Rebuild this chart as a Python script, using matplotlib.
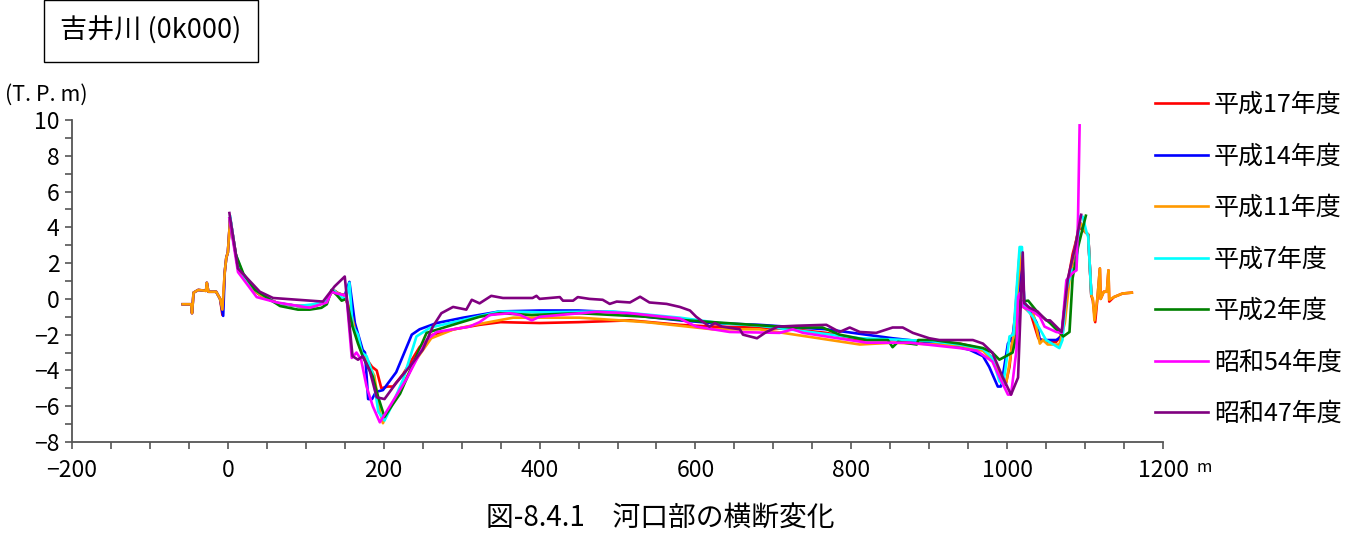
import matplotlib
matplotlib.use("Agg")
import matplotlib.pyplot as plt
from matplotlib.ticker import MultipleLocator

plt.rcParams['font.family'] = ['Noto Sans CJK JP', 'DejaVu Sans']

labels = ['平成17年度', '平成14年度', '平成11年度', '平成7年度', '平成2年度', '昭和54年度', '昭和47年度']
colors = ['#FF0000', '#0000FF', '#FF9900', '#00FFFF', '#008000', '#FF00FF', '#800080']

# 平成17年度
x_h17 = [-58, -47, -46, -44, -38, -28, -27, -25, -15, -10, -7, -4, -2, 0, 3,
         12, 20, 30, 45, 65, 90, 110, 125, 135, 142, 150,
         155, 160, 165, 170, 177, 185, 191, 197, 205, 212, 225, 246, 263, 290, 323, 350,
         400, 450, 516, 580, 622, 682, 725, 768, 811, 853, 900, 939, 969, 981, 990, 998,
         1003, 1010, 1016, 1020, 1030, 1040, 1050, 1063, 1070, 1076, 1084, 1093, 1100, 1104,
         1108, 1110, 1113, 1116, 1119, 1120, 1124, 1128, 1130, 1131, 1137, 1148, 1160]
y_h17 = [-0.3, -0.3, -0.8, 0.35, 0.5, 0.45, 0.9, 0.4, 0.4, 0.0, -0.9, 1.5, 2.3, 2.6, 4.5,
         2.0, 1.2, 0.6, 0.1, -0.25, -0.4, -0.4, -0.2, 0.5, 0.3, 0.2,
         -0.5, -1.5, -1.8, -2.8, -3.3, -3.8, -4.0, -5.0, -4.9, -4.9, -4.2, -2.7, -2.0, -1.7, -1.45, -1.3,
         -1.35, -1.3, -1.2, -1.45, -1.55, -1.6, -1.7, -1.9, -2.3, -2.3, -2.4, -2.5, -2.8, -3.3, -4.2, -4.8,
         -3.8, -1.0, 2.5, -0.4, -0.8, -2.2, -2.4, -2.4, -2.0, 0.5, 2.5, 4.0, 3.75, 3.6,
         0.2, -0.1, -1.3, 0.1, 1.7, 0.0, 0.4, 0.4, 1.6, -0.15, 0.1, 0.3, 0.35]

# 平成14年度
x_h14 = [-58, -47, -46, -44, -38, -28, -27, -25, -15, -10, -6, -4, -2, 0, 3,
         12, 20, 30, 45, 65, 90, 110, 125, 135, 142, 150,
         156, 163, 173, 176, 180, 185, 190, 199, 216, 236, 246, 268, 302, 349,
         400, 450, 500, 537, 580, 622, 682, 768, 853, 926, 952, 969, 977, 988, 992,
         995, 1001, 1007, 1014, 1019, 1022, 1029, 1038, 1042, 1063, 1070, 1076, 1084, 1093, 1100,
         1104, 1108]
y_h14 = [-0.3, -0.3, -0.8, 0.35, 0.5, 0.45, 0.9, 0.4, 0.4, 0.0, -0.95, 1.5, 2.3, 2.6, 4.5,
         2.0, 1.2, 0.6, 0.1, -0.25, -0.4, -0.4, -0.2, 0.5, 0.3, 0.2,
         0.95, -1.35, -2.85, -3.0, -5.6, -5.6, -5.2, -5.1, -4.1, -2.0, -1.7, -1.35, -1.05, -0.7,
         -0.65, -0.65, -0.75, -1.0, -1.2, -1.35, -1.45, -1.7, -2.2, -2.55, -2.85, -3.2, -3.8, -4.9, -4.9,
         -4.15, -2.5, -2.1, 0.1, 2.5, -0.2, -0.6, -1.35, -2.3, -2.3, -2.1, 0.5, 2.0, 4.3, 3.75,
         3.6, 0.2]

# 平成11年度
x_h11 = [-58, -47, -46, -44, -38, -28, -27, -25, -15, -10, -7, -4, -2, 0, 3,
         12, 20, 30, 45, 65, 90, 110, 125, 135, 142, 150,
         157, 163, 172, 180, 188, 195, 199, 205, 222, 240, 261, 290, 323, 366,
         451, 537, 622, 682, 811, 853, 939, 969, 985, 995, 999, 1003, 1010, 1012,
         1017, 1022, 1033, 1042, 1046, 1052, 1067, 1074, 1080, 1091, 1095, 1100, 1104,
         1108, 1110, 1112, 1116, 1119, 1120, 1124, 1128, 1130, 1131, 1137, 1148, 1160]
y_h11 = [-0.3, -0.3, -0.8, 0.35, 0.5, 0.45, 0.9, 0.4, 0.4, 0.0, -0.6, 1.5, 2.3, 2.6, 4.5,
         2.0, 1.2, 0.6, 0.1, -0.25, -0.4, -0.4, -0.2, 0.5, 0.3, 0.2,
         -0.6, -1.7, -3.0, -3.6, -4.3, -6.3, -6.95, -6.3, -5.0, -3.5, -2.2, -1.7, -1.4, -1.05,
         -1.05, -1.3, -1.7, -1.7, -2.55, -2.45, -2.6, -2.9, -3.6, -4.7, -4.65, -3.6, -1.5, -0.45,
         2.7, -0.4, -0.7, -2.5, -2.3, -2.55, -2.55, -1.35, 1.05, 3.85, 4.2, 3.75, 3.6,
         0.2, 0.0, -1.2, 0.1, 1.7, 0.0, 0.4, 0.4, 1.6, -0.05, 0.1, 0.3, 0.35]

# 平成7年度
x_h7 = [3, 10, 20, 35, 60, 90, 110, 125, 135, 145, 152, 156, 160, 167, 172, 178, 186, 193, 201,
        210, 225, 242, 260, 300, 349, 400, 494, 580, 631, 682, 811, 900, 939, 969, 981, 990, 995,
        1000, 1003, 1008, 1016, 1019, 1022, 1033, 1050, 1067, 1071, 1076, 1083, 1089, 1093, 1097,
        1102, 1104, 1108]
y_h7 = [4.6, 2.5, 1.3, 0.5, -0.2, -0.4, -0.3, -0.1, 0.5, 0.1, 0.0, 0.9, -1.5, -2.0, -3.0, -3.2, -4.2, -6.3, -6.8,
        -6.0, -4.5, -2.1, -1.6, -1.2, -0.7, -0.75, -0.7, -1.05, -1.35, -1.5, -2.2, -2.35, -2.55, -2.8, -3.3, -4.6, -4.8,
        -3.2, -2.1, -2.0, 2.9, 2.9, -0.4, -1.0, -2.3, -2.75, -2.3, 0.5, 1.6, 1.8, 4.6, 4.6,
        3.7, 3.5, 0.3]

# 平成2年度
x_h2 = [2, 10, 20, 35, 67, 90, 105, 120, 127, 133, 140, 146, 152, 160, 167, 173, 186, 193, 201,
        210, 221, 238, 255, 281, 323, 349, 390, 451, 537, 589, 673, 725, 763, 785, 820, 847, 853,
        860, 884, 886, 905, 939, 969, 981, 990, 1007, 1012, 1016, 1019, 1027, 1040, 1055, 1072,
        1080, 1084, 1091, 1101]
y_h2 = [4.5, 2.5, 1.4, 0.5, -0.4, -0.6, -0.6, -0.5, -0.3, 0.5, 0.2, -0.1, 0.0, -1.55, -2.5, -3.2, -4.35, -5.5, -6.6,
        -6.0, -5.3, -3.6, -1.9, -1.55, -1.0, -0.8, -0.9, -0.8, -1.0, -1.2, -1.45, -1.6, -1.6, -2.0, -2.3, -2.3, -2.7,
        -2.4, -2.55, -2.3, -2.3, -2.5, -2.75, -3.0, -3.4, -3.0, -2.0, 0.0, -0.15, -0.1, -0.8, -1.35, -2.1,
        -1.85, 1.15, 2.9, 4.65]

# 昭和54年度
x_s54 = [2, 13, 37, 63, 105, 127, 133, 140, 150, 152, 159, 165, 171, 178, 186, 195, 205, 229, 255,
         268, 310, 323, 336, 362, 375, 390, 400, 473, 516, 580, 601, 644, 708, 725, 738, 768, 820,
         875, 939, 961, 981, 990, 1001, 1005, 1012, 1014, 1016, 1020, 1033, 1042, 1048, 1063, 1070,
         1076, 1084, 1089, 1091, 1093]
y_s54 = [4.5, 1.5, 0.1, -0.2, -0.5, -0.2, 0.4, 0.3, 0.2, 0.3, -3.3, -3.0, -3.4, -4.9, -6.0, -6.9, -6.2, -4.5, -2.3,
         -1.85, -1.55, -1.3, -0.9, -0.8, -0.9, -1.2, -1.0, -0.72, -0.8, -1.1, -1.55, -1.85, -1.9, -1.7, -1.9, -2.1, -2.45,
         -2.45, -2.75, -2.9, -3.5, -4.35, -5.35, -5.35, -2.85, 0.1, 0.3, -0.45, -0.7, -1.0, -1.55, -1.85, -1.9,
         1.05, 1.45, 1.6, 4.6, 9.7]

# 昭和47年度
x_s47 = [2, 13, 41, 58, 122, 137, 150, 160, 167, 173, 182, 191, 201, 216, 233, 250, 263, 274, 289,
         306, 313, 323, 338, 353, 391, 396, 400, 426, 430, 443, 449, 464, 481, 490, 499, 516, 529,
         541, 563, 580, 593, 601, 618, 625, 634, 657, 661, 679, 691, 706, 730, 768, 785, 798, 811,
         832, 853, 866, 879, 900, 913, 939, 956, 969, 981, 994, 1005, 1014, 1020, 1022, 1029, 1039,
         1050, 1055, 1070, 1078, 1087, 1095]
y_s47 = [4.8, 1.7, 0.4, 0.05, -0.15, 0.7, 1.25, -3.2, -3.4, -3.2, -4.0, -5.5, -5.6, -4.7, -3.8, -2.85, -1.55, -0.8, -0.45,
         -0.6, -0.05, -0.25, 0.17, 0.05, 0.05, 0.17, 0.0, 0.1, -0.1, -0.1, 0.1, 0.0, -0.05, -0.28, -0.15, -0.2, 0.12,
         -0.2, -0.28, -0.45, -0.65, -1.0, -1.55, -1.35, -1.55, -1.7, -2.0, -2.2, -1.85, -1.55, -1.5, -1.45, -1.85, -1.6, -1.85,
         -1.9, -1.6, -1.6, -1.9, -2.2, -2.3, -2.3, -2.3, -2.5, -3.0, -4.35, -5.35, -4.4, 2.6, -0.25, -0.5, -0.7,
         -1.2, -1.2, -1.85, 1.15, 2.85, 4.7]

series = [(x_h17, y_h17), (x_h14, y_h14), (x_h11, y_h11), (x_h7, y_h7),
          (x_h2, y_h2), (x_s54, y_s54), (x_s47, y_s47)]

W, H = 1360, 536
fig = plt.figure(figsize=(W / 100, H / 100), dpi=100)
ax = fig.add_axes([72 / W, 1 - 442 / H, (1163 - 72) / W, (442 - 120) / H])

for (xs, ys), c, lab in zip(series, colors, labels):
    ax.plot(xs, ys, color=c, lw=1.9, label=lab, solid_joinstyle='round')

ax.set_xlim(-200, 1200)
ax.set_ylim(-8, 10)
ax.xaxis.set_major_locator(MultipleLocator(200))
ax.xaxis.set_minor_locator(MultipleLocator(50))
ax.yaxis.set_major_locator(MultipleLocator(2))
ax.yaxis.set_minor_locator(MultipleLocator(1))
for s in ['top', 'right']:
    ax.spines[s].set_visible(False)
for s in ['left', 'bottom']:
    ax.spines[s].set_color('#555555')
    ax.spines[s].set_linewidth(1.3)
ax.tick_params(which='both', direction='out', color='#555555', width=1.2)
ax.tick_params(axis='x', which='both', length=5)
ax.tick_params(axis='y', which='both', length=5)
ax.tick_params(axis='x', which='major', labelsize=16.5, pad=7)
ax.tick_params(axis='y', which='major', labelsize=16.5, pad=4)

fig.text(1197 / W, 1 - 467 / H, 'm', fontsize=12, ha='left', va='center')
fig.text(5 / W, 1 - 95 / H, '(T. P. m)', fontsize=15.5, ha='left', va='center')
fig.text(660 / W, 1 - 518 / H, '図-8.4.1　河口部の横断変化', fontsize=20, ha='center', va='center')
fig.text(151 / W, 1 - 31 / H, '吉井川 (0k000)', fontsize=19.5, ha='center', va='center',
         bbox=dict(boxstyle='square,pad=0.62', fc='white', ec='black', lw=1.0))

fig.legend(loc='upper left', bbox_to_anchor=(1155 / W, 1 - 92 / H), frameon=False,
           fontsize=18, labelspacing=1.02, handlelength=2.1, handletextpad=0.25,
           borderpad=0, borderaxespad=0)

fig.savefig('out.png', dpi=100)
